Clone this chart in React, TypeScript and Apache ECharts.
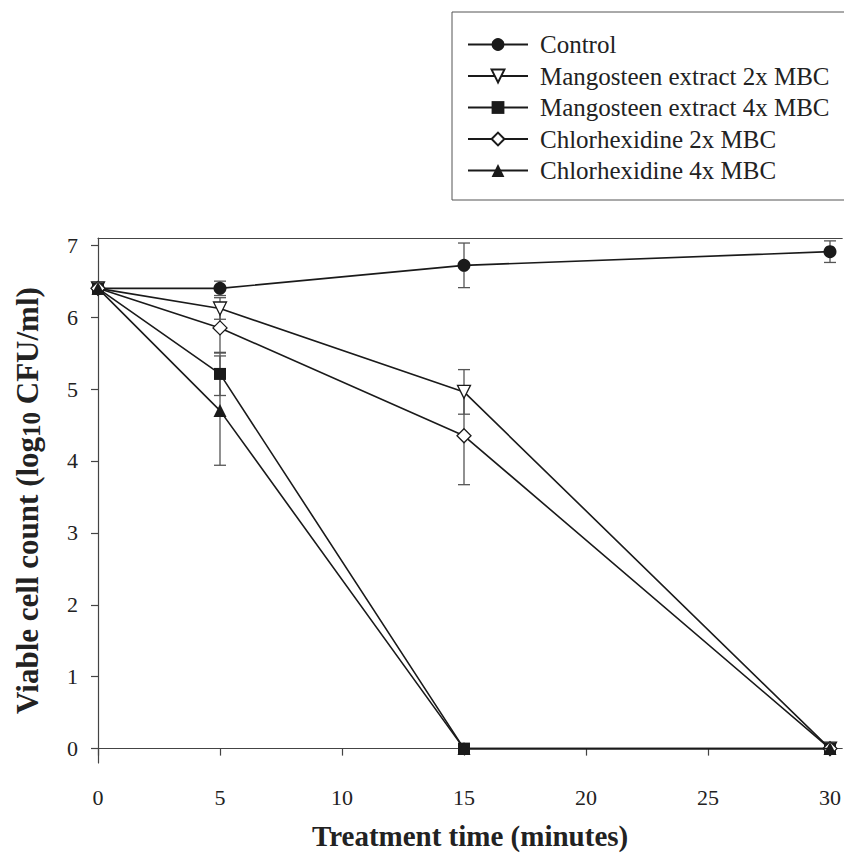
import React, { useEffect, useRef } from "react";
import * as echarts from "echarts";

const times = [0, 5, 15, 30];
const seriesNames = [
  "Control",
  "Mangosteen extract 2x MBC",
  "Mangosteen extract 4x MBC",
  "Chlorhexidine 2x MBC",
  "Chlorhexidine 4x MBC",
];
const control = [6.4, 6.4, 6.72, 6.91];
const controlErr = [0.08, 0.1, 0.31, 0.15];
const mango2x = [6.4, 6.12, 4.96, 0];
const mango2xErr = [0.08, 0.15, 0.31, 0];
const mango4x = [6.4, 5.21, 0, 0];
const mango4xErr = [0.08, 0.3, 0, 0];
const chlor2x = [6.4, 5.85, 4.35, 0];
const chlor2xErr = [0.08, 0.35, 0.68, 0];
const chlor4x = [6.4, 4.7, 0, 0];
const chlor4xErr = [0.08, 0.76, 0, 0];
const xTicks = [0, 5, 10, 15, 20, 25, 30];
const yTicks = [0, 1, 2, 3, 4, 5, 6, 7];

const FONT = "'Liberation Serif', 'Times New Roman', serif";

export default function App() {
  const ref = useRef<HTMLDivElement>(null);
  useEffect(() => {
    if (!ref.current) return;
    const chart = echarts.init(ref.current, null, { renderer: "svg" });
    const values = [control, mango2x, mango4x, chlor2x, chlor4x];
    const errs = [controlErr, mango2xErr, mango4xErr, chlor2xErr, chlor4xErr];
    const symbols = ["circle", "triangle", "rect", "diamond", "triangle"];
    const rotates = [0, 180, 0, 0, 0];
    const sizes = [13, 13, 12, 14, 13];
    const filled = [true, false, true, false, true];

    const errData: number[][] = [];
    values.forEach((vals, si) => {
      vals.forEach((v, i) => {
        const e = errs[si][i];
        if (e > 0) errData.push([times[i], v - e, v + e]);
      });
    });

    const lineSeries = values.map((vals, si) => ({
      name: seriesNames[si],
      type: "line",
      data: vals.map((v, i) => [times[i], v]),
      symbol: symbols[si],
      symbolRotate: rotates[si],
      symbolSize: sizes[si],
      showAllSymbol: true,
      lineStyle: { color: "#1a1a1a", width: 1.6 },
      itemStyle: {
        color: filled[si] ? "#1a1a1a" : "#ffffff",
        borderColor: "#1a1a1a",
        borderWidth: filled[si] ? 0 : 1.3,
      },
      emphasis: { disabled: true },
      z: 3 + si,
    }));

    const option: any = {
      animation: false,
      backgroundColor: "#ffffff",
      legend: {
        data: seriesNames,
        orient: "vertical",
        left: 452,
        top: 12,
        padding: [20, 19, 17, 15],
        itemWidth: 60,
        itemHeight: 16,
        itemGap: 6.5,
        borderColor: "#555",
        borderWidth: 1,
        textStyle: { fontFamily: FONT, fontSize: 25, color: "#222", padding: [0, 0, 0, 7] },
        selectedMode: false,
      },
      grid: { left: 98, top: 238, right: 1, bottom: 88, containLabel: false },
      xAxis: [
        {
          type: "value",
          min: 0,
          max: 30.5,
          position: "bottom",
          name: "Treatment time (minutes)",
          nameLocation: "middle",
          nameGap: 58,
          nameTextStyle: {
            fontFamily: FONT,
            fontSize: 29,
            fontWeight: "bold",
            color: "#222",
          },
          splitLine: { show: false },
          axisLine: { show: true, lineStyle: { color: "#444", width: 1.2 } },
          axisTick: {
            show: true,
            length: 7,
            customValues: xTicks,
            lineStyle: { color: "#444", width: 1.2 },
          },
          axisLabel: {
            customValues: xTicks,
            fontFamily: FONT,
            fontSize: 22,
            color: "#222",
            margin: 23,
          },
        },
        {
          type: "value",
          min: 0,
          max: 30.5,
          position: "top",
          splitLine: { show: false },
          axisLine: { show: true, onZero: false, lineStyle: { color: "#444", width: 1.2 } },
          axisTick: { show: false },
          axisLabel: { show: false },
        },
      ],
      yAxis: {
        type: "value",
        min: -0.2,
        max: 7.1,
        name: "{a|Viable cell count (log}{s|10}{a| CFU/ml)}",
        nameLocation: "middle",
        nameRotate: 90,
        nameGap: 54,
        nameTextStyle: {
          fontFamily: FONT,
          fontSize: 31,
          fontWeight: "bold",
          color: "#222",
          rich: {
            a: { fontFamily: FONT, fontSize: 31, fontWeight: "bold", color: "#222", lineHeight: 34, verticalAlign: "middle" },
            s: { fontFamily: FONT, fontSize: 25, fontWeight: "bold", color: "#222", lineHeight: 34, verticalAlign: "bottom", padding: [9, 0, 0, 0] },
          },
        },
        splitLine: { show: false },
        axisLine: { show: true, onZero: false, lineStyle: { color: "#444", width: 1.2 } },
        axisTick: {
          show: true,
          length: 7,
          customValues: yTicks,
          lineStyle: { color: "#444", width: 1.2 },
        },
        axisLabel: {
          customValues: yTicks,
          fontFamily: FONT,
          fontSize: 22,
          color: "#222",
          margin: 20,
        },
      },
      series: [
        {
          type: "custom",
          name: "errors",
          data: errData,
          z: 1,
          silent: true,
          renderItem: (params: any, api: any) => {
            const x = api.value(0);
            const lo = api.coord([x, api.value(1)]);
            const hi = api.coord([x, api.value(2)]);
            const hw = 6;
            const style = { stroke: "#555", lineWidth: 1.3 };
            return {
              type: "group",
              children: [
                { type: "line", shape: { x1: lo[0], y1: lo[1], x2: hi[0], y2: hi[1] }, style },
                { type: "line", shape: { x1: lo[0] - hw, y1: lo[1], x2: lo[0] + hw, y2: lo[1] }, style },
                { type: "line", shape: { x1: hi[0] - hw, y1: hi[1], x2: hi[0] + hw, y2: hi[1] }, style },
              ],
            };
          },
        },
        ...lineSeries,
      ],
    };
    chart.setOption(option);
    return () => chart.dispose();
  }, []);
  return <div ref={ref} style={{ width: 844, height: 855, position: "absolute", left: 0, top: 0 }} />;
}
